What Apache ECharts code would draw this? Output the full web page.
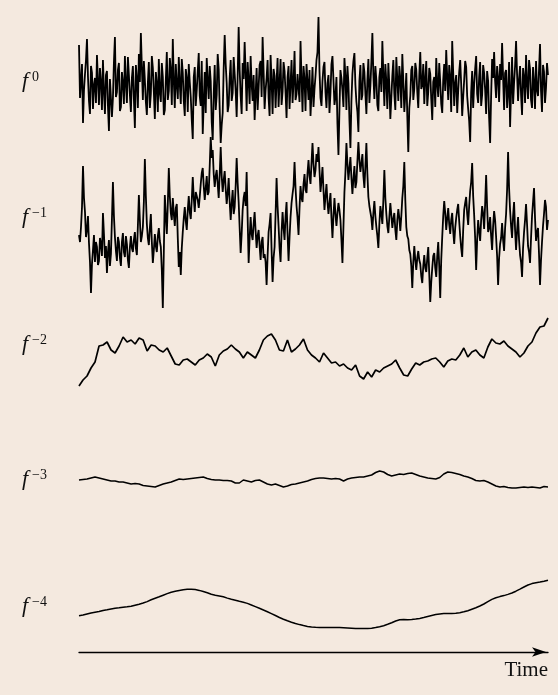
<!DOCTYPE html>
<html>
<head>
<meta charset="utf-8">
<script src="https://cdn.jsdelivr.net/npm/echarts@6/dist/echarts.min.js"></script>
<style>
html,body{margin:0;padding:0;background:#f4e9df;}
#c{width:558px;height:695px;}
</style>
</head>
<body>
<div id="c"></div>
<script>
// f^0 : white noise
const f0 = [
4.1,-1.2,0.5,2.2,-3.7,-0.4,1.2,2.6,4.7,0.9,-1.5,-2.8,2.0,1.3,-2.3,0.1,0.8,-1.7,3.1,0.6,
-1.9,1.8,0.4,-2.4,2.6,-0.5,-2.8,1.1,1.5,-2.0,-4.5,0.7,0.9,-3.1,-1.2,2.4,4.9,-1.1,-0.6,1.6,
2.3,-2.5,-2.1,1.4,0.3,-1.8,3.0,0.2,-1.7,2.9,1.1,-0.9,-2.6,0.8,2.0,-1.3,-4.2,2.1,0.7,-2.2,
3.2,0.4,5.3,1.9,-1.4,2.5,0.6,-1.6,-2.9,0.3,2.4,-2.2,-0.8,3.0,1.8,-0.6,-3.3,1.4,0.2,-2.6,
2.7,-0.7,-1.6,2.3,0.9,-2.9,-2.4,0.6,3.4,-1.4,-0.5,2.8,1.6,-1.9,4.7,0.5,-2.2,2.2,0.1,-1.3,
2.9,0.2,-1.8,2.7,1.3,-1.5,-3.0,1.7,0.8,-2.6,2.2,0.4,-1.1,-3.4,-5.3,0.9,1.9,-2.0,-0.4,1.5,
3.3,-1.0,-2.0,2.5,-4.8,-1.6,1.4,-2.7,2.8,0.6,-1.3,2.0,0.5,-3.6,-5.4,-0.8,2.1,-2.4,-0.9,3.2,
1.7,-2.3,-5.7,-3.9,-2.7,1.8,5.1,2.2,0.3,-2.6,-1.9,0.8,2.6,-1.5,-0.7,2.9,1.2,-0.5,-3.1,1.0,
5.9,1.6,-1.0,-2.8,2.3,0.7,4.4,1.3,-2.5,2.4,0.6,-1.8,3.0,0.2,-1.5,1.1,-3.4,-0.9,1.8,-2.4,
-0.2,2.1,2.5,-1.1,4.9,1.5,-2.3,-0.4,0.8,2.6,-1.2,-3.0,3.1,0.5,-2.8,1.7,1.0,-2.2,0.4,2.8,
-2.1,0.3,2.7,-1.9,-0.6,2.4,1.5,-0.7,-3.2,0.9,2.0,-2.3,0.2,2.6,-1.7,0.4,3.5,-1.4,-0.8,1.2,
1.3,-1.6,4.5,0.8,-2.6,2.0,0.7,-2.5,2.2,0.4,-1.4,1.6,-3.0,-0.8,1.9,-2.1,-0.3,1.0,2.6,3.4,
6.9,1.5,-1.2,-2.0,0.5,1.9,2.4,-0.6,-2.2,0.3,1.1,-2.7,-0.7,2.2,3.0,0.6,-1.9,-1.1,0.9,-3.8,
-6.9,-2.4,1.6,0.8,-0.4,-2.1,2.8,1.0,-2.4,2.0,0.3,-3.4,-6.2,-1.5,1.2,2.5,3.3,0.1,-1.6,-2.6,
-4.6,0.5,2.1,-1.4,-0.9,2.3,1.4,-0.8,-2.8,0.6,2.7,-1.7,0.0,2.4,5.3,1.1,-1.3,2.0,0.6,-1.9,
-2.5,0.9,1.8,-0.6,4.5,1.2,-2.0,2.2,0.4,-2.3,2.3,0.1,-3.3,-1.2,1.0,2.6,-0.8,-2.4,2.9,0.7,
-1.5,2.0,0.7,-2.2,3.2,0.5,-2.6,-0.9,1.3,-3.0,-6.6,-2.2,-1.0,1.6,2.0,-1.4,-0.3,2.3,1.6,-0.6,
-2.2,1.1,3.4,-0.3,0.1,2.2,-1.8,0.7,2.5,-2.0,-0.6,1.8,1.2,-1.3,-3.4,0.4,0.9,-2.1,2.8,0.2,
-1.1,2.3,0.4,-1.8,-2.7,0.6,2.2,-0.5,3.6,0.9,-1.4,2.1,0.8,-2.6,4.5,1.3,-2.0,0.3,1.1,-2.7,
-0.5,1.4,2.6,0.2,-3.0,-1.1,0.6,2.5,1.9,-1.0,-2.3,-3.5,-5.6,-0.6,1.5,-2.2,0.2,1.7,3.0,-0.8,
-1.7,0.9,2.4,-2.0,-0.9,2.1,1.3,-0.4,-2.8,1.5,0.5,-3.2,-5.7,-1.0,2.7,0.8,3.4,0.5,-1.2,2.0,
0.8,-1.6,2.2,0.6,4.3,0.9,-2.4,1.3,1.6,-2.2,-0.7,2.4,-4.1,-0.5,2.9,-1.8,0.3,2.0,4.5,1.2,
-1.5,0.7,2.0,-0.9,-2.9,1.8,0.9,-1.7,3.1,0.2,-1.3,2.6,1.7,-1.4,-2.2,1.9,0.4,-2.3,2.5,-0.4,
-1.0,1.6,4.2,-0.5,-2.6,2.1,1.4,-1.7,-0.2,2.3,1.1
];
// f^-1 : pink noise
const f1 = [
-1.3,-2.0,-0.5,1.5,5.6,2.4,1.0,-1.5,-0.8,0.6,-2.1,-4.0,-7.1,-4.2,-2.8,-1.3,-4.0,-2.0,-2.5,-4.3,
-3.9,-1.6,-2.2,-3.4,0.9,-1.2,-3.6,-2.4,-5.1,-3.0,-1.8,-4.4,-3.2,0.3,4.0,0.6,-1.5,-2.9,-3.9,-1.5,
-2.0,-3.6,-4.4,-2.0,-1.1,-3.0,-3.5,-1.4,-2.2,-3.8,-4.6,-2.5,-1.4,-2.6,-3.0,-1.8,-1.0,-2.6,-3.3,-0.4,
2.7,0.2,-2.0,-1.4,-0.5,2.0,6.3,2.6,-0.2,-1.6,-2.3,-0.6,0.8,-2.0,-4.1,-2.8,-1.2,-2.4,-3.0,-1.4,
-0.6,-1.9,-2.5,-4.8,-8.6,-3.0,2.7,0.6,-1.2,1.8,5.4,2.6,0.9,0.2,2.4,0.8,-0.4,1.4,1.8,-1.6,
-4.5,-3.0,-5.3,-2.6,-1.0,0.4,1.5,0.1,-0.8,1.2,2.6,1.0,0.3,2.2,4.5,2.4,1.0,3.0,2.9,2.2,
1.4,2.5,3.8,4.9,5.4,3.6,2.2,3.4,4.6,2.7,3.0,5.6,8.5,6.4,7.2,4.8,3.5,4.6,5.2,3.8,
2.4,4.8,7.5,4.6,3.0,4.2,5.1,3.3,1.8,2.9,4.4,2.0,0.2,1.9,3.2,0.8,1.5,3.6,6.4,3.9,
2.0,-0.6,-3.1,-1.2,1.2,2.4,3.0,1.6,5.0,0.4,-4.1,-1.6,0.5,-1.2,-1.8,-0.2,1.0,-0.9,-2.6,-1.4,
-0.8,-2.4,-3.8,-2.0,-1.5,-3.6,-3.2,-4.0,-6.3,-3.4,-1.0,-0.2,0.9,-2.8,-6.0,-3.6,-2.5,0.8,4.4,1.6,
-0.4,-2.6,-4.0,-1.0,1.0,-0.6,-1.8,0.6,2.0,-1.2,-3.9,-1.5,0.5,1.9,2.8,3.6,6.0,3.4,1.6,0.4,
-1.3,1.4,3.6,2.4,2.0,3.8,4.8,3.2,2.9,4.9,6.2,4.6,3.8,5.9,7.9,5.8,4.5,5.2,6.8,6.0,
7.5,5.2,3.0,4.1,5.5,3.2,1.2,2.6,3.8,2.0,0.8,1.9,2.9,0.4,-1.6,0.6,2.4,0.8,-0.4,0.9,
1.9,1.2,0.2,-1.8,-4.1,-0.5,3.0,5.0,7.9,5.8,4.2,5.4,6.5,4.4,2.8,4.3,5.6,3.4,4.0,6.1,
8.0,6.2,5.0,5.9,6.8,4.6,3.4,5.6,7.9,4.8,2.5,1.6,1.0,0.4,-0.8,0.9,2.1,0.6,-0.5,-1.4,
-2.6,-0.2,1.6,0.8,-0.2,2.2,5.2,2.4,0.8,-0.4,-1.1,0.5,1.9,0.7,-0.6,0.3,0.9,-0.8,-1.8,0.2,
1.3,0.4,-0.9,0.6,2.4,3.6,6.0,2.2,-0.5,-1.4,-1.7,-2.8,-3.2,-4.4,-6.6,-4.0,-2.4,-3.8,-4.8,-3.6,
-2.9,-3.8,-4.2,-5.4,-6.1,-4.4,-3.3,-4.6,-5.0,-3.6,-2.5,-5.2,-8.0,-6.0,-4.6,-3.4,-3.1,-4.6,-5.5,-3.4,
-2.0,-4.4,-7.6,-3.8,-1.5,0.6,2.1,0.9,-0.8,0.4,1.4,-0.2,-1.2,0.2,0.9,-0.9,-2.2,-0.6,0.4,1.2,
1.8,0.1,-1.4,-2.6,-3.5,-0.8,1.2,1.9,2.5,0.8,-0.3,1.6,3.1,4.0,5.9,2.6,0.7,-1.6,-4.8,-1.8,
0.2,-0.9,-1.9,0.2,1.6,0.8,-0.7,1.8,4.7,1.5,-1.0,-0.6,0.5,-1.4,-2.8,-0.4,1.1,0.2,-1.5,-3.4,
-6.3,-3.6,-2.2,-1.6,-0.1,-1.8,-2.9,-0.6,0.8,3.2,7.0,3.4,1.2,-0.4,-1.6,0.6,2.0,-0.8,-2.8,-0.9,
0.5,-1.8,-3.3,-4.0,-5.5,-2.6,-1.0,0.2,1.8,-0.2,-2.4,-3.0,-4.1,-1.6,0.6,2.0,3.4,0.4,-1.9,-1.0,
-0.6,-3.2,-6.3,-3.8,-2.0,-0.4,0.8,2.2,1.5,-0.8,0.2
];
// f^-2 : brown noise
const f2 = [
-7.2,-6.0,-5.2,-3.6,-2.4,0.8,1.0,1.6,0,-0.6,
0.8,2.6,1.6,2.0,1.2,2.4,2.0,-0.2,1.0,0.8,
0,-0.4,0.4,-1.2,-2.8,-3.0,-2.0,-1.8,-2.4,-3.0,
-2.0,-1.6,-0.8,-1.4,-3.2,-1.0,-0.2,0.2,1.0,0.2,
-0.4,-1.6,-0.4,-1.0,-1.6,0,2.0,2.8,3.2,2.0,
0,-0.2,2.0,-0.4,0.2,1.0,2.2,0,-1.0,-1.6,
-2.4,-0.6,-1.6,-2.6,-2.4,-3.2,-2.8,-3.6,-4.0,-3.0,
-5.2,-5.8,-4.4,-5.4,-4.0,-4.4,-3.6,-3.2,-2.8,-2.0,
-3.6,-5.0,-5.2,-3.8,-2.6,-3.0,-2.4,-2.2,-1.8,-1.6,
-2.4,-3.4,-2.2,-1.8,-2.0,-1.0,0.4,-1.4,-0.4,0,
-1.0,-1.6,0.6,2.2,1.4,1.2,1.8,0.8,0.2,-0.4,
-1.4,-0.6,0.8,1.6,3.4,4.6,4.8,6.4
];
// f^-3
const f3 = [
0,0.1,0.2,0.4,0.6,0.4,0.2,0,-0.2,-0.2,
-0.4,-0.4,-0.6,-0.8,-0.7,-0.8,-1.1,-1.2,-1.3,-1.4,
-1.1,-0.8,-0.6,-0.4,-0.1,0.2,0.1,0.2,0.3,0.4,
0.5,0.6,0.3,0.1,0,0,-0.1,-0.1,-0.2,-0.6,
-0.6,0,-0.2,-0.4,-0.1,0,-0.4,-0.8,-1.0,-0.8,
-1.1,-1.4,-1.2,-0.9,-0.8,-0.6,-0.4,-0.2,0.1,0.3,
0.4,0.4,0.3,0.2,0.3,0.2,-0.2,0.2,0.4,0.5,
0.6,0.6,0.8,1.0,1.5,1.8,1.6,1.1,0.8,1.0,
1.2,1.1,1.3,1.4,1.1,0.8,0.6,0.4,0.3,0.2,
0.5,1.2,1.6,1.5,1.3,1.1,0.8,0.6,0.3,-0.1,
-0.2,-0.1,-0.4,-0.8,-1.2,-1.4,-1.3,-1.5,-1.6,-1.6,
-1.5,-1.4,-1.5,-1.4,-1.5,-1.6,-1.3,-1.4
];
// f^-4
const f4 = [
-2.14,-2.0,-1.8,-1.6,-1.44,-1.3,-1.1,-0.96,-0.8,-0.64,
-0.56,-0.46,-0.36,-0.24,-0.04,0.16,0.4,0.68,1.04,1.36,
1.64,1.96,2.28,2.56,2.76,2.92,3.06,3.14,3.14,3.08,
2.92,2.7,2.44,2.14,1.94,1.82,1.64,1.38,1.16,0.96,
0.74,0.54,0.32,0,-0.32,-0.66,-1.0,-1.36,-1.72,-2.1,
-2.5,-2.84,-3.16,-3.44,-3.7,-3.92,-4.12,-4.28,-4.4,-4.46,
-4.5,-4.52,-4.52,-4.5,-4.5,-4.52,-4.56,-4.6,-4.64,-4.68,
-4.7,-4.72,-4.7,-4.64,-4.52,-4.36,-4.14,-3.86,-3.56,-3.2,
-2.96,-2.92,-2.94,-2.92,-2.82,-2.68,-2.52,-2.32,-2.12,-1.92,
-1.78,-1.72,-1.68,-1.68,-1.66,-1.54,-1.36,-1.14,-0.84,-0.54,
-0.2,0.2,0.68,1.12,1.44,1.68,1.88,2.12,2.4,2.76,
3.16,3.6,4.0,4.28,4.44,4.58,4.76,4.96
];
const seriesData = [f0, f1, f2, f3, f4];
const labelExps = ['0', '\u22121', '\u22122', '\u22123', '\u22124'];
const xLabel = 'Time';

// layout (styles/positions only)
const grids = [
  {top: 16, height: 140, min: -7, max: 7, w: 1.8},
  {top: 137, height: 171, min: -8.6, max: 8.5, w: 1.8},
  {top: 310, height: 80, min: -8, max: 8, w: 1.7},
  {top: 460, height: 40, min: -4, max: 4, w: 1.5},
  {top: 575, height: 60, min: -6, max: 6, w: 1.5}
];
const labelCenters = [83, 219, 346, 481, 608];

const option = {
  backgroundColor: '#f4e9df',
  animation: false,
  grid: grids.map(g => ({left: 79, width: 469, top: g.top, height: g.height})),
  xAxis: grids.map((g, i) => ({
    type: 'category',
    gridIndex: i,
    boundaryGap: false,
    data: seriesData[i].map((_, k) => k),
    show: i === 4,
    position: 'bottom',
    offset: 17,
    axisLine: {show: i === 4, onZero: false, symbol: ['none', 'arrow'], symbolSize: [7, 14], symbolOffset: [0, -2],
      lineStyle: {color: '#000', width: 1.3}},
    axisTick: {show: false},
    axisLabel: {show: false},
    splitLine: {show: false}
  })),
  yAxis: grids.map((g, i) => ({
    type: 'value', gridIndex: i, min: g.min, max: g.max, show: false, splitLine: {show: false}
  })),
  series: seriesData.map((d, i) => ({
    type: 'line', xAxisIndex: i, yAxisIndex: i, data: d, symbol: 'none', silent: true,
    lineStyle: {color: '#000', width: grids[i].w}
  })),
  graphic: [].concat(
    labelCenters.map(c => ({
      type: 'text', x: 22, y: c - 2,
      style: {text: 'f', font: 'italic 22px "Liberation Serif"', fill: '#111', verticalAlign: 'middle', align: 'left'}
    })),
    labelCenters.map((c, i) => ({
      type: 'text', x: 32, y: c - 6,
      style: {text: labelExps[i], font: '14px "Liberation Serif"', fill: '#111', verticalAlign: 'middle', align: 'left'}
    })),
    [{
      type: 'text', x: 548, y: 670,
      style: {text: xLabel, font: '21px "Liberation Serif"', fill: '#111', verticalAlign: 'middle', align: 'right'}
    }]
  )
};
const chart = echarts.init(document.getElementById('c'), null, {renderer: 'canvas'});
chart.setOption(option);
</script>
</body>
</html>
